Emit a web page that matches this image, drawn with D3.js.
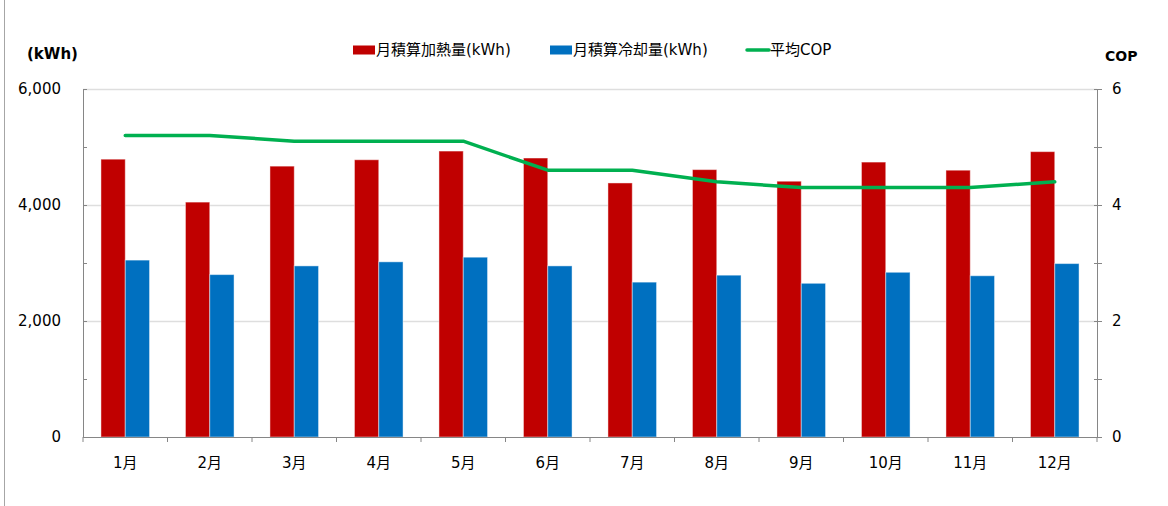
<!DOCTYPE html>
<html>
<head>
<meta charset="utf-8">
<script src="https://cdn.jsdelivr.net/npm/d3@7"></script>
<style>
  html, body { margin: 0; padding: 0; background: #fff; }
  svg text { font-family: "DejaVu Sans", "Noto Sans CJK JP", sans-serif; fill: #000; }
</style>
</head>
<body>
<svg id="chart" width="1168" height="506"></svg>
<script>
// monthly data
const months = ['1月','2月','3月','4月','5月','6月','7月','8月','9月','10月','11月','12月'];
const heating = [4790, 4050, 4670, 4780, 4930, 4810, 4380, 4610, 4410, 4740, 4600, 4920];
const cooling = [3050, 2800, 2950, 3020, 3100, 2950, 2670, 2790, 2650, 2840, 2780, 2990];
const cop = [5.2, 5.2, 5.1, 5.1, 5.1, 4.6, 4.6, 4.4, 4.3, 4.3, 4.3, 4.4];
const leftTicks = [0, 2000, 4000, 6000];
const rightTicks = [0, 2, 4, 6];
const seriesNames = ['月積算加熱量(kWh)', '月積算冷却量(kWh)', '平均COP'];

(function () {
    const RED = '#c00000', BLUE = '#0070c0', GREEN = '#00b050';
    const AXIS = '#868686', GRID = '#dedede';

    const svg = d3.select('#chart');
    const pl = 83, pr = 1097, pt = 89, pb = 437;

    const x = d3.scaleBand().domain(months).range([pl, pr]).padding(0);
    const bw = x.bandwidth();
    const x1 = d3.scaleBand().domain(['heat', 'cool']).range([bw * 0.2125, bw * 0.7875]).padding(0);
    const y = d3.scaleLinear().domain([0, 6000]).range([pb, pt]);
    const y2 = d3.scaleLinear().domain([0, 6]).range([pb, pt]);

    // frame edge on the far left
    svg.append('line').attr('x1', 4.5).attr('x2', 4.5).attr('y1', 0).attr('y2', 506)
        .attr('stroke', '#a6a6a6').attr('stroke-width', 1);

    // gridlines
    svg.append('g').selectAll('line').data(leftTicks.filter(d => d > 0)).enter().append('line')
        .attr('x1', pl).attr('x2', pr)
        .attr('y1', d => Math.round(y(d)) + 0.5).attr('y2', d => Math.round(y(d)) + 0.5)
        .attr('stroke', GRID).attr('stroke-width', 1.5);

    // bars
    const groups = svg.append('g').selectAll('g').data(months).enter().append('g')
        .attr('transform', d => 'translate(' + x(d) + ',0)');
    groups.append('rect')
        .attr('x', x1('heat')).attr('width', x1.bandwidth())
        .attr('y', (d, i) => y(heating[i])).attr('height', (d, i) => y(0) - y(heating[i]))
        .attr('fill', RED).attr('stroke', 'rgba(255,255,255,0.45)').attr('stroke-width', 1);
    groups.append('rect')
        .attr('x', x1('cool')).attr('width', x1.bandwidth())
        .attr('y', (d, i) => y(cooling[i])).attr('height', (d, i) => y(0) - y(cooling[i]))
        .attr('fill', BLUE).attr('stroke', 'rgba(255,255,255,0.45)').attr('stroke-width', 1);

    // left axis
    const gl = svg.append('g').attr('transform', 'translate(' + pl + ',0)')
        .call(d3.axisLeft(y).tickValues(d3.range(0, 6001, 1000)).tickSize(0).tickFormat(''));
    gl.select('.domain').attr('stroke', AXIS);
    gl.selectAll('.tick line').attr('x1', 0).attr('x2', 4).attr('stroke', AXIS);
    svg.append('g').selectAll('text').data(leftTicks).enter().append('text')
        .attr('x', 61).attr('y', d => y(d)).attr('dy', '0.35em')
        .attr('text-anchor', 'end').style('font-size', '15px')
        .text(d3.format(','));

    // right axis
    const gr = svg.append('g').attr('transform', 'translate(' + pr + ',0)')
        .call(d3.axisRight(y2).tickValues(d3.range(0, 7, 1)).tickSize(0).tickFormat(''));
    gr.select('.domain').attr('stroke', AXIS);
    gr.selectAll('.tick line').attr('x1', -3).attr('x2', 5).attr('stroke', AXIS);
    svg.append('g').selectAll('text').data(rightTicks).enter().append('text')
        .attr('x', 1112).attr('y', d => y2(d)).attr('dy', '0.35em')
        .style('font-size', '15px')
        .text(d => d);

    // bottom axis
    const gb = svg.append('g').attr('transform', 'translate(0,' + pb + ')')
        .call(d3.axisBottom(x).tickSize(0).tickFormat(''));
    gb.select('.domain').attr('stroke', AXIS);
    gb.selectAll('.tick').remove();
    gb.selectAll('line.sep').data(d3.range(months.length + 1)).enter().append('line')
        .attr('class', 'sep')
        .attr('x1', i => pl + i * bw).attr('x2', i => pl + i * bw)
        .attr('y1', 0).attr('y2', 5).attr('stroke', AXIS);
    svg.append('g').selectAll('text').data(months).enter().append('text')
        .attr('x', d => x(d) + bw / 2).attr('y', 463).attr('dy', '0.35em')
        .attr('text-anchor', 'middle').style('font-size', '15px')
        .text(d => d);

    // COP line
    svg.append('path').datum(cop)
        .attr('fill', 'none').attr('stroke', GREEN).attr('stroke-width', 3.5)
        .attr('stroke-linejoin', 'round').attr('stroke-linecap', 'round')
        .attr('d', d3.line().x((d, i) => x(months[i]) + bw / 2).y(d => y2(d)));

    // axis titles
    svg.append('text').attr('x', 27).attr('y', 54).attr('dy', '0.35em')
        .style('font-size', '15px').style('font-weight', 'bold').text('(kWh)');
    svg.append('text').attr('x', 1105).attr('y', 56).attr('dy', '0.35em')
        .style('font-size', '14px').style('font-weight', 'bold').text('COP');

    // legend
    const legendX = [353, 550, 746];
    const lg = svg.append('g').selectAll('g').data(seriesNames).enter().append('g')
        .attr('transform', (d, i) => 'translate(' + legendX[i] + ',50)');
    lg.each(function (d, i) {
        const g = d3.select(this);
        if (i < 2) {
            g.append('rect').attr('x', 0).attr('y', -4.5).attr('width', 22).attr('height', 9)
                .attr('fill', i === 0 ? RED : BLUE);
        } else {
            g.append('line').attr('x1', 1).attr('x2', 23).attr('y1', 0).attr('y2', 0)
                .attr('stroke', GREEN).attr('stroke-width', 3.5).attr('stroke-linecap', 'round');
        }
        g.append('text').attr('x', i < 2 ? 23 : 24).attr('y', 0).attr('dy', '0.35em')
            .style('font-size', '15px').text(d);
    });
})();
</script>
</body>
</html>
